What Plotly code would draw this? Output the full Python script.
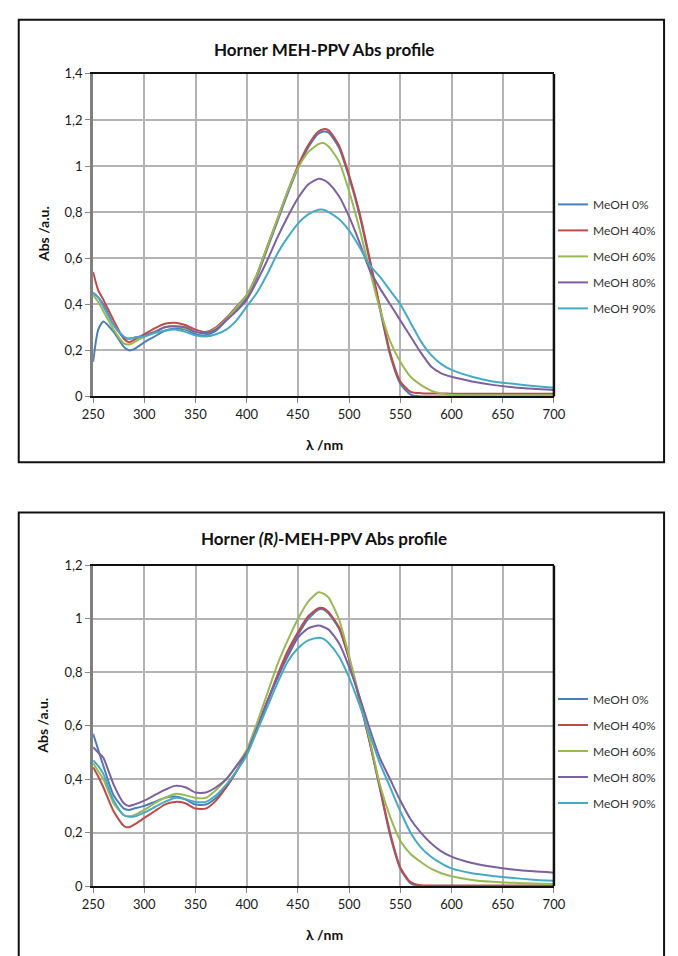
import plotly.graph_objects as go

# ---------------- data ----------------
wavelength = [250, 255, 260, 270, 280, 285, 290, 300, 310, 320, 330, 340, 350, 360, 370,
              380, 390, 400, 410, 420, 430, 440, 450, 460, 470, 475, 480, 490, 500, 510,
              520, 530, 540, 550, 560, 570, 580, 590, 600, 620, 640, 660, 680, 700]

series_names = ["MeOH 0%", "MeOH 40%", "MeOH 60%", "MeOH 80%", "MeOH 90%"]

# Top chart: Horner MEH-PPV
top_meoh0 = [0.15, 0.29, 0.325, 0.28, 0.215, 0.20, 0.205, 0.235, 0.26, 0.285, 0.295, 0.29, 0.27, 0.265, 0.285,
             0.33, 0.38, 0.43, 0.52, 0.64, 0.76, 0.88, 0.99, 1.08, 1.14, 1.15, 1.145, 1.08, 0.95, 0.79,
             0.59, 0.38, 0.18, 0.055, 0.008, 0.0, 0.0, 0.0, 0.0, 0.0, 0.0, 0.0, 0.0, 0.0]
top_meoh40 = [0.54, 0.46, 0.42, 0.33, 0.25, 0.235, 0.245, 0.27, 0.295, 0.315, 0.32, 0.31, 0.29, 0.28, 0.30,
              0.34, 0.39, 0.44, 0.53, 0.65, 0.77, 0.89, 1.00, 1.09, 1.15, 1.16, 1.155, 1.09, 0.96, 0.80,
              0.60, 0.39, 0.19, 0.065, 0.02, 0.014, 0.013, 0.013, 0.012, 0.012, 0.012, 0.012, 0.012, 0.012]
top_meoh60 = [0.44, 0.41, 0.37, 0.29, 0.23, 0.225, 0.235, 0.26, 0.28, 0.30, 0.305, 0.295, 0.28, 0.275, 0.295,
              0.335, 0.385, 0.44, 0.53, 0.65, 0.77, 0.89, 0.99, 1.06, 1.095, 1.10, 1.085, 1.02, 0.89, 0.73,
              0.55, 0.38, 0.24, 0.15, 0.085, 0.05, 0.025, 0.012, 0.007, 0.005, 0.005, 0.005, 0.005, 0.005]
top_meoh80 = [0.45, 0.43, 0.40, 0.31, 0.255, 0.25, 0.255, 0.265, 0.28, 0.30, 0.305, 0.30, 0.28, 0.275, 0.29,
              0.33, 0.37, 0.42, 0.50, 0.59, 0.69, 0.78, 0.86, 0.92, 0.945, 0.94, 0.925, 0.87, 0.78, 0.67,
              0.55, 0.47, 0.40, 0.33, 0.26, 0.19, 0.13, 0.10, 0.085, 0.065, 0.05, 0.04, 0.033, 0.028]
top_meoh90 = [0.45, 0.43, 0.39, 0.31, 0.26, 0.25, 0.255, 0.26, 0.275, 0.285, 0.29, 0.28, 0.265, 0.26, 0.27,
              0.29, 0.33, 0.39, 0.45, 0.53, 0.62, 0.69, 0.75, 0.79, 0.81, 0.81, 0.80, 0.77, 0.72, 0.65,
              0.57, 0.52, 0.46, 0.40, 0.32, 0.24, 0.18, 0.14, 0.115, 0.085, 0.065, 0.055, 0.045, 0.037]

# Bottom chart: Horner (R)-MEH-PPV
bot_meoh0 = [0.57, 0.51, 0.45, 0.34, 0.29, 0.285, 0.29, 0.30, 0.315, 0.33, 0.335, 0.325, 0.305, 0.305, 0.33,
             0.37, 0.43, 0.50, 0.59, 0.69, 0.78, 0.87, 0.94, 1.00, 1.035, 1.035, 1.02, 0.965, 0.85, 0.70,
             0.54, 0.365, 0.19, 0.065, 0.01, 0.0, 0.0, 0.0, 0.0, 0.0, 0.0, 0.0, 0.0, 0.0]
bot_meoh40 = [0.445, 0.41, 0.37, 0.28, 0.225, 0.22, 0.23, 0.255, 0.28, 0.305, 0.315, 0.31, 0.29, 0.29, 0.32,
              0.37, 0.43, 0.50, 0.59, 0.69, 0.79, 0.88, 0.95, 1.01, 1.04, 1.04, 1.025, 0.97, 0.85, 0.70,
              0.54, 0.37, 0.20, 0.07, 0.015, 0.003, 0.002, 0.002, 0.002, 0.002, 0.002, 0.002, 0.002, 0.002]
bot_meoh60 = [0.46, 0.43, 0.40, 0.31, 0.265, 0.26, 0.265, 0.285, 0.31, 0.33, 0.345, 0.34, 0.33, 0.33, 0.36,
              0.40, 0.45, 0.51, 0.61, 0.72, 0.83, 0.92, 1.00, 1.065, 1.10, 1.095, 1.08, 1.00, 0.86, 0.71,
              0.55, 0.38, 0.26, 0.17, 0.12, 0.09, 0.065, 0.048, 0.037, 0.023, 0.016, 0.012, 0.01, 0.008]
bot_meoh80 = [0.52, 0.50, 0.48, 0.38, 0.31, 0.30, 0.305, 0.32, 0.34, 0.36, 0.375, 0.37, 0.35, 0.35, 0.37,
              0.40, 0.45, 0.50, 0.59, 0.69, 0.78, 0.86, 0.93, 0.965, 0.975, 0.97, 0.96, 0.91, 0.82, 0.71,
              0.59, 0.48, 0.40, 0.32, 0.25, 0.20, 0.16, 0.13, 0.11, 0.086, 0.072, 0.062, 0.055, 0.05]
bot_meoh90 = [0.47, 0.45, 0.42, 0.32, 0.265, 0.26, 0.26, 0.275, 0.295, 0.315, 0.33, 0.325, 0.315, 0.315, 0.34,
              0.38, 0.43, 0.49, 0.58, 0.67, 0.76, 0.84, 0.89, 0.92, 0.93, 0.925, 0.91, 0.86, 0.78, 0.68,
              0.57, 0.46, 0.37, 0.28, 0.20, 0.145, 0.11, 0.085, 0.066, 0.048, 0.038, 0.03, 0.024, 0.02]

x_ticks = [250, 300, 350, 400, 450, 500, 550, 600, 650, 700]
top_y_ticks = [0, 0.2, 0.4, 0.6, 0.8, 1.0, 1.2, 1.4]
top_y_labels = ["0", "0,2", "0,4", "0,6", "0,8", "1", "1,2", "1,4"]
bot_y_ticks = [0, 0.2, 0.4, 0.6, 0.8, 1.0, 1.2]
bot_y_labels = ["0", "0,2", "0,4", "0,6", "0,8", "1", "1,2"]

colors = ["#4A7EBB", "#BE4B48", "#98B954", "#7D60A0", "#46AAC5"]

FONT = "Lato"
W, H = 678, 956

fig = go.Figure()

top_series = [top_meoh0, top_meoh40, top_meoh60, top_meoh80, top_meoh90]
bot_series = [bot_meoh0, bot_meoh40, bot_meoh60, bot_meoh80, bot_meoh90]

for name, ys, c in zip(series_names, top_series, colors):
    fig.add_trace(go.Scatter(x=wavelength, y=ys, name=name, mode="lines",
                             line=dict(color=c, width=2, shape="spline", smoothing=0.6),
                             xaxis="x", yaxis="y", legend="legend", legendgroup="t" + name))
for name, ys, c in zip(series_names, bot_series, colors):
    fig.add_trace(go.Scatter(x=wavelength, y=ys, name=name, mode="lines",
                             line=dict(color=c, width=2, shape="spline", smoothing=0.6),
                             xaxis="x2", yaxis="y2", legend="legend2", legendgroup="b" + name))


def px_x(p):
    return p / W


def px_y(p):
    return (H - p) / H


xdom = [px_x(85), px_x(562)]
top_ydom = [px_y(395), px_y(67)]
bot_ydom = [px_y(893), px_y(567)]

axis_common = dict(showgrid=True, gridcolor="#b4b4b4", gridwidth=1.5, zeroline=False,
                   ticks="outside", ticklen=5, tickcolor="#888888",
                   tickfont=dict(family=FONT, size=13, color="#1a1a1a"))

xcommon = dict(axis_common, range=[250, 700], tickvals=x_ticks, showline=True,
               linecolor="#111111", linewidth=2, mirror=True)

legend_common = dict(xanchor="left", yanchor="top",
                     font=dict(family=FONT, size=12, color="#333333"),
                     tracegroupgap=7, bgcolor="rgba(0,0,0,0)")

fig.update_layout(
    width=W, height=H, autosize=False,
    margin=dict(l=0, r=0, t=0, b=0),
    paper_bgcolor="white", plot_bgcolor="white",
    xaxis=dict(xcommon, domain=xdom, anchor="y"),
    yaxis=dict(axis_common, domain=top_ydom, anchor="x", range=[0, 1.4],
               tickvals=top_y_ticks, ticktext=top_y_labels, showline=True,
               linecolor="#808080", linewidth=3),
    xaxis2=dict(xcommon, domain=xdom, anchor="y2"),
    yaxis2=dict(axis_common, domain=bot_ydom, anchor="x2", range=[0, 1.2],
                tickvals=bot_y_ticks, ticktext=bot_y_labels, showline=True,
                linecolor="#808080", linewidth=3),
    legend=dict(legend_common, x=px_x(561), y=px_y(185)),
    legend2=dict(legend_common, x=px_x(561), y=px_y(688)),
    showlegend=True,
)

# outer frames
fig.add_shape(type="rect", xref="paper", yref="paper",
              x0=px_x(8), x1=px_x(676), y0=px_y(462), y1=px_y(12),
              line=dict(color="#111111", width=2), fillcolor="rgba(0,0,0,0)", layer="above")
fig.add_shape(type="rect", xref="paper", yref="paper",
              x0=px_x(8), x1=px_x(676), y0=px_y(990), y1=px_y(513),
              line=dict(color="#111111", width=2), fillcolor="rgba(0,0,0,0)", layer="above")
# right border of plot areas (black)
for xr, yr in [("x domain", "y domain"), ("x2 domain", "y2 domain")]:
    fig.add_shape(type="line", xref=xr, yref=yr, x0=1, x1=1, y0=0, y1=1,
                  line=dict(color="#111111", width=2.5), layer="above")

# titles and axis labels
ann_common = dict(xref="paper", yref="paper", showarrow=False, xanchor="center", yanchor="middle")
fig.add_annotation(text="<b>Horner MEH-PPV Abs profile</b>", x=px_x(324), y=px_y(42),
                   font=dict(family=FONT, size=17, color="#111111"), **ann_common)
fig.add_annotation(text="<b>Horner <i>(R)</i>-MEH-PPV Abs profile</b>", x=px_x(324), y=px_y(540),
                   font=dict(family=FONT, size=17, color="#111111"), **ann_common)
for yc in [230, 730]:
    fig.add_annotation(text="<b>Abs /a.u.</b>", x=px_x(33), y=px_y(yc), textangle=-90,
                       font=dict(family=FONT, size=14, color="#111111"), **ann_common)
for yc in [444, 942]:
    fig.add_annotation(text="<b>λ /nm</b>", x=px_x(324), y=px_y(yc),
                       font=dict(family=FONT, size=14, color="#111111"), **ann_common)

fig.write_html("out.html", config={"displayModeBar": False},
               post_script="document.body.style.margin='0';")
